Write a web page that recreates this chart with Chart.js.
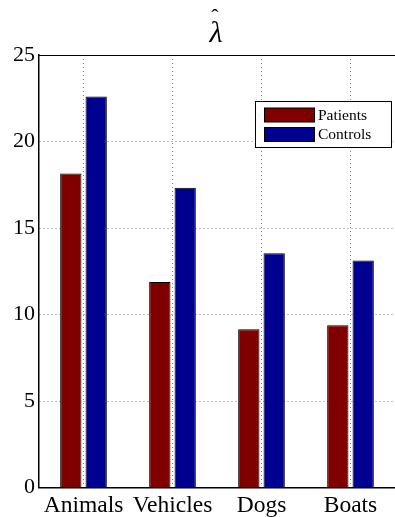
<!DOCTYPE html>
<html>
<head>
<meta charset="utf-8">
<script src="https://cdn.jsdelivr.net/npm/chart.js@4/dist/chart.umd.min.js"></script>
<style>
html,body{margin:0;padding:0;background:#fff;overflow:hidden;}
#wrap{width:395px;height:517px;position:relative;}
</style>
</head>
<body>
<div id="wrap"><canvas id="c" width="395" height="517"></canvas></div>
<script>
const categories = ['Animals', 'Vehicles', 'Dogs', 'Boats'];
const patients = [18.15, 11.88, 9.15, 9.38];
const controls = [22.6, 17.33, 13.55, 13.13];
const yTicks = [0, 5, 10, 15, 20, 25];
const seriesNames = ['Patients', 'Controls'];
const titleSymbol = 'λ';
const titleAccent = 'ˆ';

const SERIF = "'Liberation Serif', 'DejaVu Serif', serif";

const frameAndLegend = {
  id: 'frameAndLegend',
  afterDraw(chart) {
    const ctx = chart.ctx, a = chart.chartArea;
    ctx.save();
    // title (lambda hat) centred over the plot area
    const cx = (a.left + a.right) / 2 - 1;
    ctx.fillStyle = '#000';
    ctx.textAlign = 'center';
    ctx.textBaseline = 'alphabetic';
    ctx.font = "italic 30px " + SERIF;
    ctx.fillText(titleSymbol, cx, a.top - 13.5);
    ctx.font = "22px " + SERIF;
    ctx.fillText(titleAccent, cx - 1, a.top - 31);
    // top box line
    ctx.strokeStyle = '#000';
    ctx.lineWidth = 1.2;
    ctx.beginPath();
    ctx.moveTo(a.left, a.top + 0.5);
    ctx.lineTo(a.right, a.top + 0.5);
    ctx.stroke();
    // legend
    const bx = a.right - 140, by = a.top + 46, bw = 136, bh = 46;
    ctx.fillStyle = '#fff';
    ctx.fillRect(bx, by, bw, bh);
    ctx.lineWidth = 1;
    ctx.strokeStyle = '#000';
    ctx.strokeRect(bx + 0.5, by + 0.5, bw, bh);
    ctx.font = "15.5px " + SERIF;
    ctx.textBaseline = 'middle';
    ctx.textAlign = 'left';
    chart.data.datasets.forEach((ds, i) => {
      const ry = by + 7 + i * 19.5;
      ctx.fillStyle = ds.backgroundColor;
      ctx.fillRect(bx + 9.5, ry, 50, 14);
      ctx.strokeStyle = '#000';
      ctx.strokeRect(bx + 9.5, ry, 50, 14);
      ctx.fillStyle = '#000';
      ctx.fillText(ds.label, bx + 63, ry + 7.5);
    });
    ctx.restore();
  }
};

new Chart(document.getElementById('c'), {
  type: 'bar',
  data: {
    labels: categories,
    datasets: [
      { label: seriesNames[0], data: patients, backgroundColor: '#800000', borderColor: '#000', borderWidth: 1 },
      { label: seriesNames[1], data: controls, backgroundColor: '#000090', borderColor: '#000', borderWidth: 1 }
    ]
  },
  options: {
    responsive: false,
    animation: false,
    devicePixelRatio: 1,
    categoryPercentage: 0.57,
    barPercentage: 0.84,
    layout: { padding: { left: 0, right: -2, top: 55, bottom: 0 } },
    plugins: {
      legend: { display: false },
      tooltip: { enabled: false },
      title: { display: false }
    },
    scales: {
      x: {
        offset: true,
        afterFit(scale) { scale.height = 29.4; },
        grid: {
          offset: false,
          drawTicks: false,
          color: 'rgba(0,0,0,0.5)',
          lineWidth: 1
        },
        border: { display: true, color: '#000', width: 1.5, dash: [1, 3] },
        ticks: {
          color: '#000',
          padding: 4.5,
          font: { family: SERIF, size: 23.5 },
          maxRotation: 0,
          autoSkip: false
        }
      },
      y: {
        min: 0,
        max: 25,
        afterBuildTicks(scale) { scale.ticks = yTicks.map(v => ({ value: v })); },
        afterFit(scale) { scale.width = 39; },
        grid: {
          drawTicks: false,
          color: (c) => (c.tick && (c.tick.value === 0 || c.tick.value === 25)) ? 'rgba(0,0,0,0)' : 'rgba(0,0,0,0.5)',
          lineWidth: 1
        },
        border: { display: true, color: '#000', width: 1.5, dash: [1, 3] },
        ticks: {
          color: '#000',
          padding: 4,
          font: { family: SERIF, size: 22 }
        }
      }
    }
  },
  plugins: [frameAndLegend]
});
</script>
</body>
</html>
